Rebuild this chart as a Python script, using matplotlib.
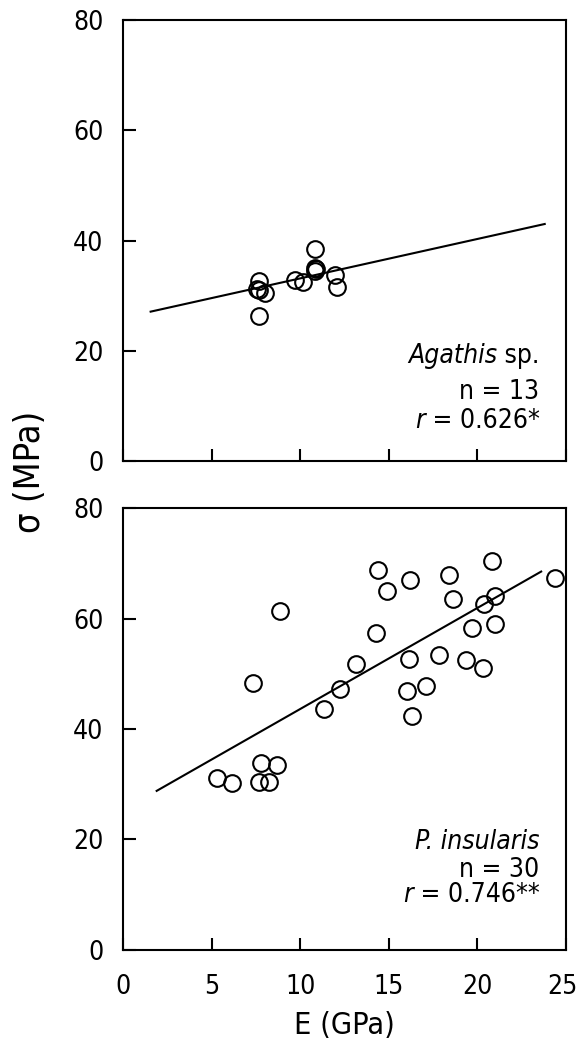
import matplotlib
matplotlib.use("Agg")
import matplotlib.pyplot as plt
from matplotlib.transforms import ScaledTranslation

plt.rcParams['font.family'] = ['DejaVu Sans']
plt.rcParams['font.stretch'] = 'condensed'

# Agathis sp. (n = 13)
agathis_E = [7.67, 7.56, 8.03, 7.67, 9.73, 10.16, 10.82, 10.82, 10.86, 11.95, 12.05, 7.70, 10.90]
agathis_s = [32.7, 31.2, 30.5, 26.3, 32.8, 32.5, 38.4, 35.0, 34.4, 33.8, 31.5, 31.0, 34.8]
agathis_fit_E = [1.56, 23.8]
agathis_fit_s = [27.1, 43.0]

# P. insularis (n = 30)
insularis_E = [14.4, 16.2, 14.9, 18.4, 20.8, 24.4, 18.6, 20.4, 21.0, 8.84,
               19.7, 21.0, 14.3, 13.16, 16.15, 17.86, 19.36, 20.34, 7.35, 12.25,
               16.0, 17.1, 11.33, 16.3, 7.8, 8.69, 5.33, 6.15, 7.65, 8.22]
insularis_s = [68.7, 66.9, 65.0, 67.8, 70.5, 67.4, 63.5, 62.7, 64.1, 61.3,
               58.2, 59.0, 57.3, 51.8, 52.7, 53.4, 52.5, 51.0, 48.3, 47.3,
               46.9, 47.7, 43.6, 42.3, 33.8, 33.4, 31.2, 30.3, 30.4, 30.4]
insularis_fit_E = [1.9, 23.6]
insularis_fit_s = [28.8, 68.5]

xticks = [0, 5, 10, 15, 20, 25]
yticks = [0, 20, 40, 60, 80]

fig = plt.figure(figsize=(5.78, 10.49), dpi=100)
ax1 = fig.add_axes([0.2128, 0.5605, 0.7664, 0.4204])
ax2 = fig.add_axes([0.2128, 0.0944, 0.7664, 0.4213])

panels = [
    (ax1, agathis_E, agathis_s, agathis_fit_E, agathis_fit_s, 'Agathis', ' sp.', '13', '0.626*', [0.222, 0.140, 0.076]),
    (ax2, insularis_E, insularis_s, insularis_fit_E, insularis_fit_s, 'P. insularis', '', '30', '0.746**', [0.229, 0.165, 0.109]),
]

fs_txt = 19
for ax, E, s, fe, fs, name, suffix, n, r, ys in panels:
    ax.plot(fe, fs, color='black', lw=1.5, zorder=2)
    ax.plot(E, s, 'o', ms=12, mfc='none', mec='black', mew=1.5, zorder=3)
    ax.set_xlim(0, 25)
    ax.set_ylim(0, 80)
    ax.set_xticks(xticks)
    ax.set_yticks(yticks)
    ax.tick_params(direction='in', length=9, width=1.5, labelsize=19,
                   top=False, right=False)
    ax.tick_params(axis='y', pad=14)
    ax.tick_params(axis='x', pad=17)
    for sp in ax.spines.values():
        sp.set_linewidth(1.5)
    # italic species name, upright suffix
    xr = 0.94
    if suffix:
        t = ax.text(0.94, ys[0], suffix, transform=ax.transAxes,
                    ha='right', va='baseline', fontsize=fs_txt)
        fig.canvas.draw()
        xr = t.get_window_extent().transformed(ax.transAxes.inverted()).x0
    ax.text(xr, ys[0], name, transform=ax.transAxes,
            ha='right', va='baseline', fontsize=fs_txt, style='italic')
    ax.text(0.94, ys[1], 'n = ' + n, transform=ax.transAxes,
            ha='right', va='baseline', fontsize=fs_txt)
    t2 = ax.text(0.94, ys[2], ' = ' + r, transform=ax.transAxes,
                 ha='right', va='baseline', fontsize=fs_txt)
    fig.canvas.draw()
    x0 = t2.get_window_extent().transformed(ax.transAxes.inverted()).x0
    ax.text(x0, ys[2], 'r', transform=ax.transAxes,
            ha='right', va='baseline', fontsize=fs_txt, style='italic')

ax1.tick_params(labelbottom=False)
# keep the last x tick label inside the canvas
last = ax2.get_xticklabels()[-1]
last.set_transform(last.get_transform() + ScaledTranslation(-4 / 100, 0, fig.dpi_scale_trans))

ax2.set_xlabel('E (GPa)', fontsize=22, labelpad=8)
fig.text(30 / 578, 1 - 472 / 1049, 'σ (MPa)', rotation=90, fontsize=26,
         ha='center', va='center')

fig.savefig('out.png', dpi=100)
